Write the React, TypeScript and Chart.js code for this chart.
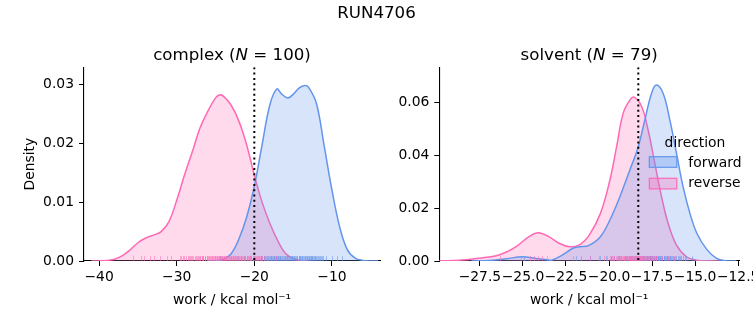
import React, { useEffect, useRef } from 'react';
import { Chart, registerables } from 'chart.js';

Chart.register(...registerables);

// ---------------- data ----------------
const suptitle = 'RUN4706';
const directions = ['forward', 'reverse'];

// complex panel
const complexN = 100;
const complexThreshold = -20.0;
const complexXTicks = [-40, -30, -20, -10];
const complexYTicks = [0, 0.01, 0.02, 0.03];
const complexFwdX = [-26, -25, -24, -23, -22, -21, -20, -19, -18, -17.1, -16.5, -15.7, -15, -14.2, -13.5, -13, -12, -11, -10, -9, -8, -7, -6, -5, -4];
const complexFwdY = [0, 0.00003, 0.0003, 0.0012, 0.0037, 0.0074, 0.0127, 0.0197, 0.0265, 0.0292, 0.0284, 0.0277, 0.0283, 0.0294, 0.0298, 0.0295, 0.0268, 0.0196, 0.0121, 0.0058, 0.0019, 0.0005, 0.0001, 0, 0];
const complexRevX = [-41, -40, -39, -38, -37, -36, -35, -34, -33, -32, -31, -30, -29, -28, -27, -26, -25, -24.5, -24, -23, -22, -21, -20, -19, -18, -17, -16, -15, -14, -13];
const complexRevY = [0, 0.00002, 0.0001, 0.0003, 0.0009, 0.0019, 0.0031, 0.0039, 0.0044, 0.005, 0.0067, 0.0103, 0.0146, 0.0185, 0.0226, 0.0254, 0.0277, 0.0282, 0.028, 0.0265, 0.0238, 0.0198, 0.0146, 0.01, 0.0064, 0.0035, 0.0013, 0.0004, 0.0001, 0];
const complexRugFwd = [-24.4, -23.6, -23.0, -22.5, -22.1, -21.7, -21.3, -21.0, -20.7, -20.4, -20.1, -19.9, -19.6, -19.4, -19.2, -19.0, -18.8, -18.6, -18.45, -18.3, -18.15, -18.0, -17.85, -17.7, -17.6, -17.45, -17.3, -17.2, -17.05, -16.9, -16.8, -16.65, -16.5, -16.35, -16.2, -16.05, -15.9, -15.75, -15.6, -15.45, -15.3, -15.15, -15.0, -14.85, -14.7, -14.6, -14.45, -14.3, -14.2, -14.05, -13.95, -13.8, -13.7, -13.6, -13.45, -13.35, -13.2, -13.1, -12.95, -12.85, -12.7, -12.6, -12.45, -12.3, -12.15, -12.0, -11.85, -11.7, -11.5, -11.3, -11.1, -10.8, -9.95, -9.3, -8.65, -19.1, -18.7, -18.2, -17.9, -17.5, -17.15, -16.95, -16.7, -16.4, -16.1, -15.8, -15.5, -15.2, -14.9, -14.5, -14.1, -13.85, -13.5, -13.25, -13.0, -12.75, -12.5, -12.2, -11.9, -11.4];
const complexRugRev = [-35.6, -34.6, -34.2, -33.5, -32.9, -32.1, -31.3, -30.8, -29.6, -29.4, -29.2, -29.0, -28.8, -28.6, -28.4, -28.2, -28.0, -27.85, -27.7, -27.55, -27.4, -27.25, -27.1, -26.95, -26.8, -26.7, -26.55, -26.4, -26.3, -26.15, -26.0, -25.9, -25.8, -25.65, -25.5, -25.4, -25.3, -25.2, -25.05, -24.95, -24.85, -24.7, -24.6, -24.5, -24.4, -24.3, -24.2, -24.1, -23.95, -23.85, -23.75, -23.6, -23.5, -23.4, -23.3, -23.15, -23.05, -22.9, -22.8, -22.65, -22.5, -22.4, -22.25, -22.1, -21.95, -21.8, -21.65, -21.5, -21.3, -21.15, -21.0, -20.8, -20.6, -20.4, -20.2, -20.0, -19.8, -19.55, -19.3, -19.0, -18.7, -18.3, -17.8, -17.2, -28.3, -27.0, -26.6, -26.05, -25.55, -25.1, -24.75, -24.25, -24.0, -23.7, -23.2, -22.7, -22.2, -21.7, -21.2, -20.5];

// solvent panel
const solventN = 79;
const solventThreshold = -18.3;
const solventXTicks = [-27.5, -25.0, -22.5, -20.0, -17.5, -15.0, -12.5];
const solventYTicks = [0, 0.02, 0.04, 0.06];
const solventFwdX = [-28, -27, -26, -25.05, -24.3, -23.6, -23.3, -22.7, -22.1, -21.7, -21.2, -20.5, -19.95, -19.37, -18.79, -18.3, -17.92, -17.53, -17.25, -16.86, -16.47, -16.08, -15.7, -15.3, -14.9, -14.3, -13.75, -13.2, -12.6];
const solventFwdY = [0, 0.0002, 0.0008, 0.0016, 0.001, 0.0005, 0.0004, 0.0023, 0.0048, 0.0054, 0.0058, 0.0092, 0.0155, 0.0243, 0.0344, 0.0432, 0.0533, 0.0634, 0.0665, 0.0634, 0.0533, 0.0407, 0.0281, 0.018, 0.0105, 0.0042, 0.001, 0.0001, 0];
const solventRevX = [-30.5, -29, -28.3, -27.56, -27, -26.4, -25.9, -25.4, -24.65, -24.1, -23.5, -22.9, -22.3, -21.75, -21.15, -20.5, -19.95, -19.56, -19.18, -18.79, -18.54, -18.1, -17.73, -17.34, -16.95, -16.57, -16.08, -15.5, -14.9, -14.3, -13.5];
const solventRevY = [0, 0.0002, 0.0005, 0.001, 0.0015, 0.0023, 0.0036, 0.0054, 0.0092, 0.0107, 0.0092, 0.0067, 0.0054, 0.006, 0.0098, 0.018, 0.0306, 0.0432, 0.0558, 0.0608, 0.0619, 0.0583, 0.0495, 0.0369, 0.0243, 0.0143, 0.006, 0.0016, 0.0003, 0.00005, 0];
const solventRugFwd = [-24.95, -21.9, -21.6, -21.1, -20.5, -20.2, -19.9, -19.7, -19.5, -19.3, -19.1, -18.95, -18.8, -18.65, -18.5, -18.4, -18.3, -18.2, -18.1, -18.0, -17.92, -17.85, -17.78, -17.71, -17.64, -17.57, -17.5, -17.44, -17.38, -17.32, -17.26, -17.2, -17.14, -17.08, -17.02, -16.96, -16.9, -16.83, -16.76, -16.69, -16.62, -16.55, -16.47, -16.39, -16.3, -16.2, -16.1, -16.0, -15.85, -15.7, -15.5, -15.2, -19.0, -18.7, -18.45, -18.25, -18.05, -17.95, -17.82, -17.68, -17.54, -17.41, -17.29, -17.17, -17.05, -16.93, -16.8, -16.66, -16.51, -16.35, -16.15, -15.95, -15.6, -18.85, -19.4, -18.55, -17.6, -16.45, -15.8];
const solventRugRev = [-26.35, -25.1, -24.6, -24.35, -24.1, -23.9, -23.6, -22.1, -21.1, -20.6, -20.3, -20.1, -19.95, -19.8, -19.7, -19.6, -19.5, -19.4, -19.3, -19.2, -19.12, -19.05, -18.97, -18.9, -18.83, -18.76, -18.7, -18.64, -18.58, -18.52, -18.46, -18.4, -18.34, -18.28, -18.22, -18.16, -18.1, -18.03, -17.96, -17.88, -17.8, -17.7, -17.6, -17.5, -17.4, -17.25, -17.1, -16.9, -16.6, -16.2, -19.9, -19.75, -19.55, -19.45, -19.35, -19.25, -19.15, -19.0, -18.93, -18.86, -18.8, -18.73, -18.67, -18.61, -18.55, -18.49, -18.43, -18.37, -18.31, -18.25, -18.19, -18.13, -18.06, -18.0, -17.92, -17.75, -17.55, -17.3, -16.75];

// ---------------- styling ----------------
const FONT = '"DejaVu Sans", "Liberation Sans", sans-serif';
const BLUE = '#6495ED';
const PINK = '#FF69B4';
const BLUE_FILL = 'rgba(100,149,237,0.25)';
const PINK_FILL = 'rgba(255,105,180,0.25)';
const BLUE_LEG = 'rgba(100,149,237,0.32)';
const PINK_LEG = 'rgba(255,105,180,0.3)';
const TICK_PX = 13.89;
const TITLE_PX = 16.67;
const CW = 800;
const CH = 325;

const fmt = (v: number, d: number) => (v < 0 ? '\u2212' : '') + Math.abs(v).toFixed(d);
const pts = (xs: number[], ys: number[]) => xs.map((x, i) => ({ x, y: ys[i] }));

type Panel = {
  name: string;
  n: number;
  threshold: number;
  padLeft: number;
  yAxisWidth: number;
  padRight: number;
  xMin: number;
  xMax: number;
  yMax: number;
  xTicks: number[];
  yTicks: number[];
  xDec: number;
  fwd: { x: number; y: number }[];
  rev: { x: number; y: number }[];
  rugFwd: number[];
  rugRev: number[];
  showYTitle: boolean;
  legend: boolean;
  sup: boolean;
};

function drawMixed(ctx: CanvasRenderingContext2D, cx: number, by: number, parts: { t: string; it: boolean }[], size: number) {
  let total = 0;
  const widths = parts.map((p) => {
    ctx.font = `${p.it ? 'italic ' : ''}${size}px ${FONT}`;
    const w = ctx.measureText(p.t).width;
    total += w;
    return w;
  });
  let x = cx - total / 2;
  ctx.textAlign = 'left';
  ctx.textBaseline = 'alphabetic';
  parts.forEach((p, i) => {
    ctx.font = `${p.it ? 'italic ' : ''}${size}px ${FONT}`;
    ctx.fillText(p.t, x, by);
    x += widths[i];
  });
}

function makeChart(canvas: HTMLCanvasElement, p: Panel) {
  const overlay = {
    id: 'overlay' + p.name,
    afterDatasetsDraw(chart: any) {
      const ctx: CanvasRenderingContext2D = chart.ctx;
      const xs = chart.scales.x;
      const area = chart.chartArea;
      const rugH = (area.bottom - area.top) * 0.025;
      ctx.save();
      ctx.beginPath();
      ctx.rect(area.left, area.top, area.right - area.left, area.bottom - area.top);
      ctx.clip();
      ctx.lineWidth = 1;
      const rug = (vals: number[], color: string) => {
        ctx.strokeStyle = color;
        vals.forEach((v) => {
          const px = Math.round(xs.getPixelForValue(v)) + 0.5;
          ctx.beginPath();
          ctx.moveTo(px, area.bottom);
          ctx.lineTo(px, area.bottom - rugH);
          ctx.stroke();
        });
      };
      rug(p.rugFwd, 'rgba(100,149,237,0.55)');
      rug(p.rugRev, 'rgba(255,105,180,0.55)');
      // threshold dotted line
      const tx = xs.getPixelForValue(p.threshold);
      ctx.strokeStyle = '#000';
      ctx.lineWidth = 2;
      ctx.setLineDash([2, 3.3]);
      ctx.beginPath();
      ctx.moveTo(tx, area.top);
      ctx.lineTo(tx, area.bottom);
      ctx.stroke();
      ctx.restore();
    },
    afterDraw(chart: any) {
      const ctx: CanvasRenderingContext2D = chart.ctx;
      const area = chart.chartArea;
      ctx.save();
      ctx.fillStyle = '#000';
      drawMixed(
        ctx,
        (area.left + area.right) / 2,
        59.5,
        [
          { t: `${p.name} (`, it: false },
          { t: 'N', it: true },
          { t: ` = ${p.n})`, it: false },
        ],
        TITLE_PX
      );
      if (p.sup) {
        ctx.font = `${TITLE_PX}px ${FONT}`;
        ctx.textAlign = 'center';
        ctx.textBaseline = 'alphabetic';
        ctx.fillText(suptitle, 376.5, 17.5);
      }
      if (p.legend) {
        ctx.font = `${TICK_PX}px ${FONT}`;
        ctx.textAlign = 'center';
        ctx.textBaseline = 'alphabetic';
        ctx.fillStyle = '#000';
        ctx.fillText('direction', 695, 146.5);
        const rows = [
          { label: directions[0], fill: BLUE_LEG, stroke: BLUE, y: 156.7, base: 166.5 },
          { label: directions[1], fill: PINK_LEG, stroke: PINK, y: 178.3, base: 187 },
        ];
        rows.forEach((r) => {
          ctx.fillStyle = r.fill;
          ctx.fillRect(649.3, r.y, 27.5, 10.6);
          ctx.strokeStyle = r.stroke;
          ctx.lineWidth = 1.2;
          ctx.strokeRect(649.3, r.y, 27.5, 10.6);
          ctx.fillStyle = '#000';
          ctx.textAlign = 'left';
          ctx.fillText(r.label, 688.3, r.base);
        });
      }
      ctx.restore();
    },
  };

  const tickFont = { family: FONT, size: TICK_PX, lineHeight: 1.2 };

  return new Chart(canvas, {
    type: 'line',
    data: {
      datasets: [
        {
          label: directions[0],
          data: p.fwd,
          borderColor: BLUE,
          backgroundColor: BLUE_FILL,
          borderWidth: 1.5,
          pointRadius: 0,
          fill: 'origin',
          tension: 0.4,
        },
        {
          label: directions[1],
          data: p.rev,
          borderColor: PINK,
          backgroundColor: PINK_FILL,
          borderWidth: 1.5,
          pointRadius: 0,
          fill: 'origin',
          tension: 0.4,
        },
      ],
    },
    options: {
      responsive: false,
      animation: false,
      events: [],
      layout: { padding: { left: p.padLeft, right: p.padRight, top: 67.3, bottom: 0 } },
      plugins: {
        legend: { display: false },
        title: { display: false },
        tooltip: { enabled: false },
      },
      scales: {
        x: {
          type: 'linear',
          min: p.xMin,
          max: p.xMax,
          afterBuildTicks: (s: any) => {
            s.ticks = p.xTicks.map((v) => ({ value: v }));
          },
          afterFit: (s: any) => {
            s.height = 64;
          },
          grid: { display: true, drawOnChartArea: false, drawTicks: true, tickLength: 5, color: '#000', lineWidth: 1 },
          border: { display: true, color: '#000', width: 1.1 },
          ticks: {
            color: '#000',
            font: tickFont,
            padding: 3.5,
            maxRotation: 0,
            autoSkip: false,
            callback: (v: any) => fmt(Number(v), p.xDec),
          },
          title: {
            display: true,
            text: 'work / kcal mol\u207B\u00B9',
            color: '#000',
            font: tickFont,
            padding: { top: 0, bottom: 16 },
          },
        },
        y: {
          type: 'linear',
          min: 0,
          max: p.yMax,
          afterBuildTicks: (s: any) => {
            s.ticks = p.yTicks.map((v) => ({ value: v }));
          },
          afterFit: (s: any) => {
            s.width = p.yAxisWidth;
          },
          grid: { display: true, drawOnChartArea: false, drawTicks: true, tickLength: 5, color: '#000', lineWidth: 1 },
          border: { display: true, color: '#000', width: 1.1 },
          ticks: {
            color: '#000',
            font: tickFont,
            padding: 5,
            autoSkip: false,
            callback: (v: any) => fmt(Number(v), 2),
          },
          title: {
            display: p.showYTitle,
            text: 'Density',
            color: '#000',
            font: tickFont,
            padding: { top: 21.7, bottom: 0 },
          },
        },
      },
    } as any,
    plugins: [overlay],
  });
}

const complexPanel: Panel = {
  name: 'complex',
  n: complexN,
  threshold: complexThreshold,
  padLeft: 0,
  yAxisWidth: 84,
  padRight: CW - 380,
  xMin: -41.95,
  xMax: -3.8,
  yMax: 0.0329,
  xTicks: complexXTicks,
  yTicks: complexYTicks,
  xDec: 0,
  fwd: pts(complexFwdX, complexFwdY),
  rev: pts(complexRevX, complexRevY),
  rugFwd: complexRugFwd,
  rugRev: complexRugRev,
  showYTitle: true,
  legend: false,
  sup: true,
};

const solventPanel: Panel = {
  name: 'solvent',
  n: solventN,
  threshold: solventThreshold,
  padLeft: 380,
  yAxisWidth: 59.3,
  padRight: CW - 739,
  xMin: -29.86,
  xMax: -12.45,
  yMax: 0.0732,
  xTicks: solventXTicks,
  yTicks: solventYTicks,
  xDec: 1,
  fwd: pts(solventFwdX, solventFwdY),
  rev: pts(solventRevX, solventRevY),
  rugFwd: solventRugFwd,
  rugRev: solventRugRev,
  showYTitle: false,
  legend: true,
  sup: false,
};

export default function App() {
  const leftRef = useRef<HTMLCanvasElement | null>(null);
  const rightRef = useRef<HTMLCanvasElement | null>(null);

  useEffect(() => {
    const charts: Chart[] = [];
    if (leftRef.current) charts.push(makeChart(leftRef.current, complexPanel));
    if (rightRef.current) charts.push(makeChart(rightRef.current, solventPanel));
    return () => charts.forEach((c) => c.destroy());
  }, []);

  const cstyle: React.CSSProperties = { position: 'absolute', left: 0, top: 0, width: CW, height: CH };
  return (
    <div style={{ position: 'fixed', left: 0, top: 0, width: 753, height: 325, overflow: 'hidden', background: '#fff' }}>
      <canvas ref={leftRef} width={CW} height={CH} style={cstyle} />
      <canvas ref={rightRef} width={CW} height={CH} style={cstyle} />
    </div>
  );
}
